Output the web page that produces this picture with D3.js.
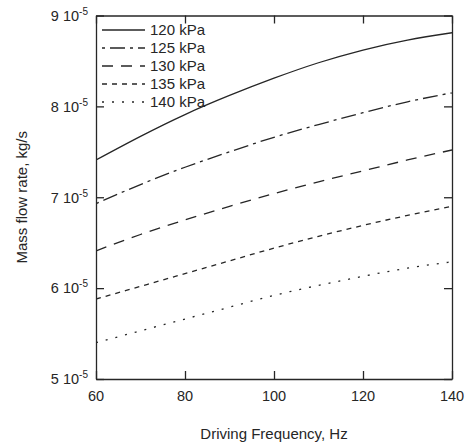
<!DOCTYPE html>
<html>
<head>
<meta charset="utf-8">
<script src="https://cdn.jsdelivr.net/npm/d3@7"></script>
<style>
  html, body { margin: 0; padding: 0; background: #fff; }
  svg { display: block; font-family: "Liberation Sans", Arial, sans-serif; }
</style>
</head>
<body>
<svg id="chart" width="471" height="444"></svg>
<script>
// Driving frequency (Hz) at which each curve is sampled
const frequency = [60, 70, 80, 90, 100, 110, 120, 130, 140];

// Mass flow rate (kg/s) for each supply pressure
const flow120 = [7.41e-5, 7.67e-5, 7.91e-5, 8.12e-5, 8.31e-5, 8.48e-5, 8.62e-5, 8.73e-5, 8.81e-5];
const flow125 = [6.93e-5, 7.14e-5, 7.33e-5, 7.50e-5, 7.66e-5, 7.80e-5, 7.93e-5, 8.05e-5, 8.15e-5];
const flow130 = [6.41e-5, 6.59e-5, 6.75e-5, 6.90e-5, 7.04e-5, 7.17e-5, 7.29e-5, 7.41e-5, 7.52e-5];
const flow135 = [5.88e-5, 6.02e-5, 6.16e-5, 6.30e-5, 6.44e-5, 6.57e-5, 6.69e-5, 6.80e-5, 6.90e-5];
const flow140 = [5.40e-5, 5.53e-5, 5.66e-5, 5.79e-5, 5.92e-5, 6.03e-5, 6.13e-5, 6.22e-5, 6.29e-5];

const seriesLabels = ["120 kPa", "125 kPa", "130 kPa", "135 kPa", "140 kPa"];
const seriesValues = [flow120, flow125, flow130, flow135, flow140];
const seriesDash = ["none", "3,5,15,5", "11,8", "5,5", "2,8"];

const xTicks = [60, 80, 100, 120, 140];
const yTicks = [5e-5, 6e-5, 7e-5, 8e-5, 9e-5];

const xTitle = "Driving Frequency, Hz";
const yTitle = "Mass flow rate, kg/s";

const ink = "#262626";
const svg = d3.select("#chart");

const plotLeft = 96, plotRight = 452, plotTop = 15.5, plotBottom = 379;
const x = d3.scaleLinear().domain([60, 140]).range([plotLeft, plotRight]);
const y = d3.scaleLinear().domain([5e-5, 9e-5]).range([plotBottom, plotTop]);

// Curves, clipped to the plot frame
svg.append("clipPath").attr("id", "plotClip")
  .append("rect").attr("x", plotLeft).attr("y", plotTop)
  .attr("width", plotRight - plotLeft).attr("height", plotBottom - plotTop);

const line = d3.line()
  .x((d, i) => x(frequency[i]))
  .y(d => y(d))
  .curve(d3.curveNatural);

const curves = svg.append("g").attr("clip-path", "url(#plotClip)");
seriesValues.forEach((vals, k) => {
  curves.append("path")
    .attr("d", line(vals))
    .attr("fill", "none")
    .attr("stroke", ink)
    .attr("stroke-width", 1.3)
    .attr("stroke-dasharray", seriesDash[k]);
});

// Axes with inward ticks on all four sides
const tickLen = 8;
const axisBottom = d3.axisBottom(x).tickValues(xTicks).tickSizeInner(-tickLen).tickSizeOuter(0).tickFormat("");
const axisTop = d3.axisTop(x).tickValues(xTicks).tickSizeInner(-tickLen).tickSizeOuter(0).tickFormat("");
const axisLeft = d3.axisLeft(y).tickValues(yTicks).tickSizeInner(-tickLen).tickSizeOuter(0).tickFormat("");
const axisRight = d3.axisRight(y).tickValues(yTicks).tickSizeInner(-tickLen).tickSizeOuter(0).tickFormat("");

function styleAxis(g) {
  g.selectAll("path, line").attr("stroke", ink).attr("stroke-width", 1.3);
}
svg.append("g").attr("transform", `translate(0,${plotBottom})`).call(axisBottom).call(styleAxis);
svg.append("g").attr("transform", `translate(0,${plotTop})`).call(axisTop).call(styleAxis);
svg.append("g").attr("transform", `translate(${plotLeft},0)`).call(axisLeft).call(styleAxis);
svg.append("g").attr("transform", `translate(${plotRight},0)`).call(axisRight).call(styleAxis);

// X tick labels
svg.append("g").selectAll("text")
  .data(xTicks).join("text")
  .attr("x", d => x(d))
  .attr("y", plotBottom + 22)
  .attr("text-anchor", "middle")
  .attr("font-size", 14.5)
  .attr("fill", ink)
  .text(d => d);

// Y tick labels in "m 10^e" form
const yLab = svg.append("g").selectAll("text")
  .data(yTicks).join("text")
  .attr("x", plotLeft - 8)
  .attr("y", d => y(d) + 5.3)
  .attr("text-anchor", "end")
  .attr("font-size", 14.5)
  .attr("fill", ink);
yLab.each(function(d) {
  const exp = Math.floor(Math.log10(d) + 1e-9);
  const mant = Math.round(d / Math.pow(10, exp));
  const t = d3.select(this);
  t.append("tspan").text(mant + " 10");
  t.append("tspan").attr("dy", -6).attr("font-size", 10).text(exp);
});

// Axis titles
svg.append("text")
  .attr("x", (plotLeft + plotRight) / 2)
  .attr("y", 439)
  .attr("text-anchor", "middle")
  .attr("font-size", 15)
  .attr("fill", ink)
  .text(xTitle);

svg.append("text")
  .attr("transform", `translate(27,${(plotTop + plotBottom) / 2}) rotate(-90)`)
  .attr("text-anchor", "middle")
  .attr("font-size", 15)
  .attr("fill", ink)
  .text(yTitle);

// Legend
const legend = svg.append("g");
seriesLabels.forEach((lab, k) => {
  const ly = 30 + k * 18;
  legend.append("line")
    .attr("x1", 102).attr("x2", 145)
    .attr("y1", ly).attr("y2", ly)
    .attr("stroke", ink)
    .attr("stroke-width", 1.3)
    .attr("stroke-dasharray", seriesDash[k]);
  legend.append("text")
    .attr("x", 150)
    .attr("y", ly + 5.3)
    .attr("font-size", 15)
    .attr("fill", ink)
    .text(lab);
});
</script>
</body>
</html>
